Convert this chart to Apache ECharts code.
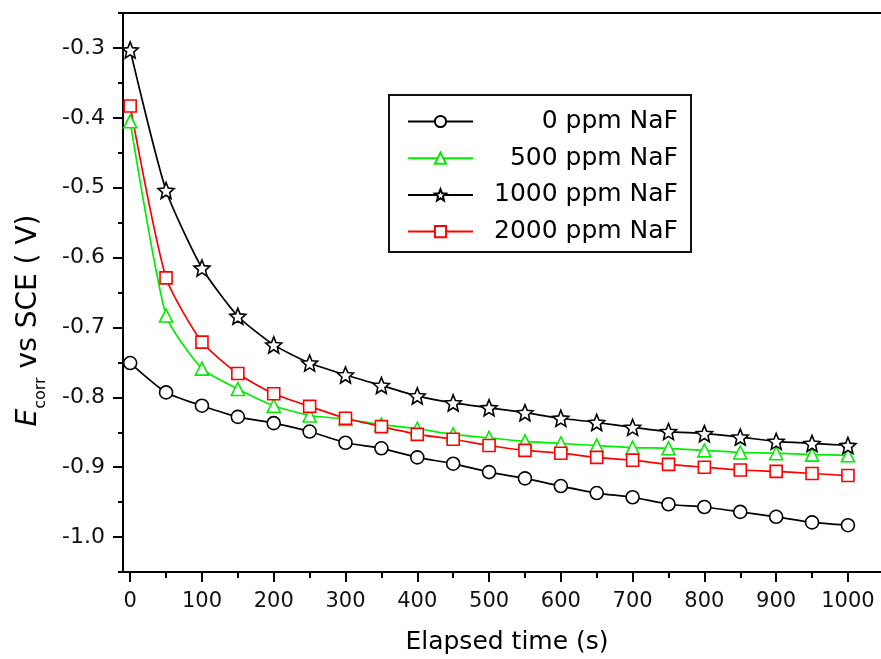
<!DOCTYPE html>
<html>
<head>
<meta charset="utf-8">
<style>
  html, body { margin: 0; padding: 0; background: #fff; }
</style>
</head>
<body>

<!-- chart container, fixed size for the screenshot -->
<div id="ecorrChart" style="width:881px; height:659px;"></div>

<script src="https://cdn.jsdelivr.net/npm/echarts@6/dist/echarts.min.js"></script>

<script>
  // Data
  var times = [0, 50, 100, 150, 200, 250, 300, 350, 400, 450, 500,
    550, 600, 650, 700, 750, 800, 850, 900, 950, 1000];

  var e0ppm = [-0.751, -0.793, -0.812, -0.828, -0.837, -0.849, -0.865, -0.873, -0.886, -0.895, -0.907,
    -0.916, -0.927, -0.937, -0.943, -0.953, -0.957, -0.964, -0.971, -0.979, -0.983];
  var e500ppm = [-0.405, -0.683, -0.759, -0.788, -0.812, -0.826, -0.831, -0.839, -0.845, -0.853, -0.858,
    -0.863, -0.866, -0.869, -0.872, -0.873, -0.876, -0.879, -0.880, -0.882, -0.883];
  var e1000ppm = [-0.303, -0.504, -0.615, -0.684, -0.725, -0.751, -0.768, -0.783, -0.798, -0.808, -0.815,
    -0.822, -0.830, -0.836, -0.843, -0.849, -0.852, -0.857, -0.863, -0.866, -0.869];
  var e2000ppm = [-0.383, -0.629, -0.721, -0.766, -0.795, -0.813, -0.830, -0.842, -0.853, -0.860, -0.869,
    -0.876, -0.880, -0.886, -0.890, -0.896, -0.900, -0.904, -0.906, -0.909, -0.912];

  var seriesNames = ['0 ppm NaF', '500 ppm NaF', '1000 ppm NaF', '2000 ppm NaF'];

  // tick positions
  var xMajorTicks = [0, 100, 200, 300, 400, 500, 600, 700, 800, 900, 1000];
  var xMinorTicks = [50, 150, 250, 350, 450, 550, 650, 750, 850, 950, 1050];
  var yMajorTicks = [-1.0, -0.9, -0.8, -0.7, -0.6, -0.5, -0.4, -0.3];
  var yMinorTicks = [-1.05, -0.95, -0.85, -0.75, -0.65, -0.55, -0.45, -0.35, -0.25];

  var FONT = 'DejaVu Sans';

  // open star outline
  var starPath = 'path://M100,0 L126.5,63.6 L195.1,69.1 L142.8,113.9 L158.8,180.9 L100,145 ' +
    'L41.2,180.9 L57.2,113.9 L4.9,69.1 L73.5,63.6 Z';

  function pairs(values) {
    return values.map(function (v, i) { return [times[i], v]; });
  }

  function makeSeries(name, values, color, symbol, size) {
    return {
      name: name,
      type: 'line',
      xAxisIndex: 0,
      yAxisIndex: 0,
      smooth: 0.2,
      symbol: symbol,
      symbolSize: size,
      lineStyle: { color: color, width: 1.7 },
      itemStyle: { color: '#fff', borderColor: color, borderWidth: 1.6 },
      emphasis: { disabled: true },
      z: 3,
      data: pairs(values)
    };
  }

  var xBase = {
    type: 'value',
    min: -10,
    max: 1060,
    splitLine: { show: false }
  };
  var yBase = {
    type: 'value',
    min: -1.05,
    max: -0.25,
    splitLine: { show: false }
  };

  var option = {
    animation: false,
    backgroundColor: '#fff',
    grid: {
      left: 123,
      right: -10,
      top: 13,
      bottom: 87,
      outerBoundsMode: 'none',
      show: true,
      borderColor: '#000',
      borderWidth: 2
    },
    legend: {
      orient: 'vertical',
      left: 389,
      top: 95,
      padding: [14, 13, 8, 18],
      itemWidth: 65,
      itemHeight: 14,
      itemGap: 11.7,
      borderColor: '#111',
      borderWidth: 2,
      selectedMode: false,
      data: seriesNames,
      formatter: function (name) { return '{a|' + name + '}'; },
      textStyle: {
        color: '#000',
        rich: {
          a: { width: 200, align: 'right', fontSize: 25, lineHeight: 24, fontFamily: FONT, color: '#000' }
        }
      }
    },
    xAxis: [
      Object.assign({}, xBase, {
        position: 'bottom',
        name: 'Elapsed time (s)',
        nameLocation: 'middle',
        nameGap: 58,
        nameTextStyle: { fontSize: 25, fontFamily: FONT, color: '#000' },
        axisLine: { show: true, onZero: false, lineStyle: { color: '#000', width: 2 } },
        axisTick: { show: true, customValues: xMajorTicks, length: 10, lineStyle: { color: '#000', width: 2 } },
        axisLabel: {
          customValues: xMajorTicks,
          margin: 19,
          fontSize: 21,
          fontFamily: FONT,
          color: '#111',
          formatter: function (v) { return String(v); }
        }
      }),
      Object.assign({}, xBase, {
        position: 'bottom',
        axisLine: { show: false, onZero: false },
        axisTick: { show: true, customValues: xMinorTicks, length: 6, lineStyle: { color: '#000', width: 2 } },
        axisLabel: { show: false }
      })
    ],
    yAxis: [
      Object.assign({}, yBase, {
        position: 'left',
        name: '{e|E}{s|corr}{t| vs SCE ( V)}',
        nameLocation: 'middle',
        nameRotate: 90,
        nameGap: 80,
        nameTextStyle: {
          padding: [0, 56, 0, 0],
          rich: {
            e: { fontSize: 28, fontStyle: 'italic', fontFamily: FONT, color: '#000', verticalAlign: 'bottom' },
            s: { fontSize: 16, fontFamily: FONT, color: '#000', verticalAlign: 'bottom', padding: [0, 0, -6, 0] },
            t: { fontSize: 28, fontFamily: FONT, color: '#000', verticalAlign: 'bottom' }
          }
        },
        axisLine: { show: true, onZero: false, lineStyle: { color: '#000', width: 2 } },
        axisTick: { show: true, customValues: yMajorTicks, length: 10, lineStyle: { color: '#000', width: 2 } },
        axisLabel: {
          customValues: yMajorTicks,
          margin: 18,
          fontSize: 22,
          fontFamily: FONT,
          color: '#111',
          formatter: function (v) { return v.toFixed(1); }
        }
      }),
      Object.assign({}, yBase, {
        position: 'left',
        offset: 0,
        axisLine: { show: false, onZero: false },
        axisTick: { show: true, customValues: yMinorTicks, length: 5, lineStyle: { color: '#000', width: 2 } },
        axisLabel: { show: false }
      })
    ],
    series: [
      makeSeries(seriesNames[0], e0ppm, '#000000', 'circle', 13),
      makeSeries(seriesNames[1], e500ppm, '#00ee00', 'triangle', 13),
      makeSeries(seriesNames[2], e1000ppm, '#000000', starPath, 16),
      makeSeries(seriesNames[3], e2000ppm, '#ff0000', 'rect', 12)
    ]
  };

  var chart = echarts.init(document.getElementById('ecorrChart'));
  chart.setOption(option);
</script>
</body>
</html>
